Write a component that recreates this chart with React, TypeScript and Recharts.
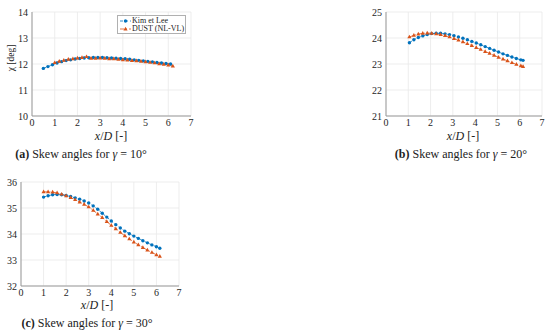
import React from 'react';
import { LineChart, Line, XAxis, YAxis, CartesianGrid } from 'recharts';

const BLUE = '#0072BD';
const ORANGE = '#D95319';
const xTicks = [0, 1, 2, 3, 4, 5, 6, 7];

// (a) gamma = 10 deg
const yTicksA = [10, 11, 12, 13, 14];
const kimAx = [0.5, 0.7, 0.9, 1.1, 1.3, 1.5, 1.7, 1.9, 2.1, 2.3, 2.5, 2.7, 2.9, 3.1, 3.3, 3.5, 3.7, 3.9, 4.1, 4.3, 4.5, 4.7, 4.9, 5.1, 5.3, 5.5, 5.7, 5.9, 6.1];
const kimAy = [11.83, 11.9, 11.97, 12.04, 12.09, 12.13, 12.16, 12.19, 12.21, 12.23, 12.24, 12.25, 12.25, 12.25, 12.24, 12.23, 12.22, 12.21, 12.2, 12.18, 12.16, 12.14, 12.12, 12.1, 12.08, 12.06, 12.04, 12.02, 12.0];
const dustAx = [1.0, 1.2, 1.4, 1.6, 1.8, 2.0, 2.2, 2.4, 2.6, 2.8, 3.0, 3.2, 3.4, 3.6, 3.8, 4.0, 4.2, 4.4, 4.6, 4.8, 5.0, 5.2, 5.4, 5.6, 5.8, 6.0, 6.2];
const dustAy = [12.05, 12.1, 12.14, 12.18, 12.2, 12.23, 12.25, 12.28, 12.22, 12.22, 12.23, 12.22, 12.2, 12.2, 12.18, 12.16, 12.15, 12.13, 12.12, 12.1, 12.08, 12.06, 12.04, 12.01, 11.99, 11.96, 11.92];

// (b) gamma = 20 deg
const yTicksB = [21, 22, 23, 24, 25];
const xB = [1.05, 1.25, 1.45, 1.65, 1.85, 2.05, 2.25, 2.45, 2.65, 2.85, 3.05, 3.25, 3.45, 3.65, 3.85, 4.05, 4.25, 4.45, 4.65, 4.85, 5.05, 5.25, 5.45, 5.65, 5.85, 6.05, 6.15];
const kimBy = [23.82, 23.93, 24.02, 24.08, 24.13, 24.17, 24.18, 24.18, 24.16, 24.13, 24.09, 24.04, 23.99, 23.93, 23.87, 23.81, 23.74, 23.67, 23.6, 23.53, 23.46, 23.39, 23.33, 23.27, 23.21, 23.16, 23.14];
const dustBy = [24.04, 24.1, 24.15, 24.18, 24.19, 24.18, 24.16, 24.13, 24.09, 24.04, 23.98, 23.92, 23.85, 23.78, 23.71, 23.63, 23.56, 23.48, 23.41, 23.33, 23.26, 23.19, 23.12, 23.05, 22.99, 22.93, 22.9];

// (c) gamma = 30 deg
const yTicksC = [32, 33, 34, 35, 36];
const xC = [1.0, 1.2, 1.4, 1.6, 1.8, 2.0, 2.2, 2.4, 2.6, 2.8, 3.0, 3.2, 3.4, 3.6, 3.8, 4.0, 4.2, 4.4, 4.6, 4.8, 5.0, 5.2, 5.4, 5.6, 5.8, 6.0, 6.15];
const kimCy = [35.42, 35.47, 35.51, 35.52, 35.51, 35.48, 35.44, 35.39, 35.34, 35.27, 35.19, 35.08, 34.95, 34.8, 34.65, 34.5, 34.36, 34.23, 34.11, 34.01, 33.92, 33.83, 33.74, 33.66, 33.58, 33.51, 33.45];
const dustCy = [35.62, 35.62, 35.61, 35.58, 35.53, 35.47, 35.4, 35.32, 35.23, 35.14, 35.04, 34.91, 34.77, 34.63, 34.48, 34.33, 34.2, 34.06, 33.93, 33.81, 33.69, 33.58, 33.48, 33.38, 33.29, 33.2, 33.14];

const zip = (xs: number[], ys: number[]) => xs.map((x, i) => ({ x, y: ys[i] }));

const font = "'Liberation Serif', 'Times New Roman', Tinos, 'DejaVu Serif', serif";

const Dot = (p: any) => <circle key={p.index} cx={p.cx} cy={p.cy} r={1.7} fill={BLUE} />;
const Tri = (p: any) => (
  <polygon
    key={p.index}
    points={`${p.cx},${p.cy - 2.3} ${p.cx - 2.1},${p.cy + 1.4} ${p.cx + 2.1},${p.cy + 1.4}`}
    fill={ORANGE}
  />
);

interface PanelProps {
  left: number;
  top: number;
  width: number;
  yAxisW: number;
  yTicks: number[];
  kim: { x: number; y: number }[];
  dust: { x: number; y: number }[];
}

const Panel: React.FC<PanelProps> = ({ left, top, width, yAxisW, yTicks, kim, dust }) => {
  const tick = { fontSize: 10, fill: '#262626', fontFamily: font };
  return (
    <div style={{ position: 'absolute', left, top, fontFamily: font }}>
      <LineChart width={width} height={140} margin={{ top: 12, right: 9, bottom: 0, left: 0 }} style={{ fontFamily: font }}>
        <CartesianGrid stroke="#e8e8e8" strokeWidth={0.8} />
        <XAxis
          type="number"
          dataKey="x"
          domain={[0, 7]}
          ticks={xTicks}
          height={24}
          tickLine={false}
          tickSize={0}
          tickMargin={3}
          stroke="#9a9a9a"
          tick={tick}
          allowDataOverflow
        />
        <YAxis
          type="number"
          dataKey="y"
          domain={[yTicks[0], yTicks[yTicks.length - 1]]}
          ticks={yTicks}
          width={yAxisW}
          tickLine={false}
          tickSize={0}
          tickMargin={4}
          stroke="#9a9a9a"
          tick={tick}
          allowDataOverflow
        />
        <Line data={kim} dataKey="y" stroke={BLUE} strokeWidth={0.8} strokeDasharray="3 2" dot={Dot} activeDot={false} isAnimationActive={false} />
        <Line data={dust} dataKey="y" stroke={ORANGE} strokeWidth={0.8} strokeDasharray="4 2 1 2" dot={Tri} activeDot={false} isAnimationActive={false} />
      </LineChart>
    </div>
  );
};

const Text: React.FC<{ x: number; y: number; size: number; children: React.ReactNode; rotate?: boolean }> = ({ x, y, size, children, rotate }) => (
  <div
    style={{
      position: 'absolute',
      left: x,
      top: y,
      transform: `translate(-50%, -50%)${rotate ? ' rotate(-90deg)' : ''}`,
      fontSize: size,
      fontFamily: font,
      color: '#222',
      whiteSpace: 'nowrap',
      lineHeight: 1,
    }}
  >
    {children}
  </div>
);

const XLabel = () => (
  <span>
    <i>x</i>/<i>D</i> [-]
  </span>
);

const Legend = () => (
  <div
    style={{
      position: 'absolute',
      left: 117,
      top: 15,
      width: 67,
      height: 17,
      background: '#fff',
      border: '0.8px solid #b0b0b0',
      fontFamily: font,
      fontSize: 8,
      color: '#222',
    }}
  >
    <svg width={13} height={17} style={{ position: 'absolute', left: 1, top: 0 }}>
      <line x1={1} y1={5} x2={12} y2={5} stroke={BLUE} strokeWidth={0.8} strokeDasharray="3 2" />
      <circle cx={6.5} cy={5} r={1.7} fill={BLUE} />
      <line x1={1} y1={13} x2={12} y2={13} stroke={ORANGE} strokeWidth={0.8} strokeDasharray="4 2 1 2" />
      <polygon points="6.5,10.7 4.4,14.4 8.6,14.4" fill={ORANGE} />
    </svg>
    <div style={{ position: 'absolute', left: 14, top: 1, lineHeight: '8px' }}>Kim et Lee</div>
    <div style={{ position: 'absolute', left: 14, top: 9, lineHeight: '8px' }}>DUST (NL-VL)</div>
  </div>
);

export default function App() {
  return (
    <div style={{ position: 'absolute', left: 0, top: 0, width: 550, height: 336, background: '#fff', fontFamily: font }}>
      <Panel left={0} top={0} width={200} yAxisW={32} yTicks={yTicksA} kim={zip(kimAx, kimAy)} dust={zip(dustAx, dustAy)} />
      <Panel left={360} top={0} width={191} yAxisW={26} yTicks={yTicksB} kim={zip(xB, kimBy)} dust={zip(xB, dustBy)} />
      <Panel left={0} top={170} width={188} yAxisW={21} yTicks={yTicksC} kim={zip(xC, kimCy)} dust={zip(xC, dustCy)} />
      <Legend />
      <Text x={12} y={58} size={9.5} rotate>χ [deg]</Text>
      <Text x={111} y={136} size={12}><XLabel /></Text>
      <Text x={463} y={136} size={12}><XLabel /></Text>
      <Text x={97} y={305} size={12}><XLabel /></Text>
      <Text x={81} y={154} size={12}><b>(a)</b> Skew angles for <i>γ</i> = 10°</Text>
      <Text x={461} y={154} size={12}><b>(b)</b> Skew angles for <i>γ</i> = 20°</Text>
      <Text x={87} y={323} size={12}><b>(c)</b> Skew angles for <i>γ</i> = 30°</Text>
    </div>
  );
}
